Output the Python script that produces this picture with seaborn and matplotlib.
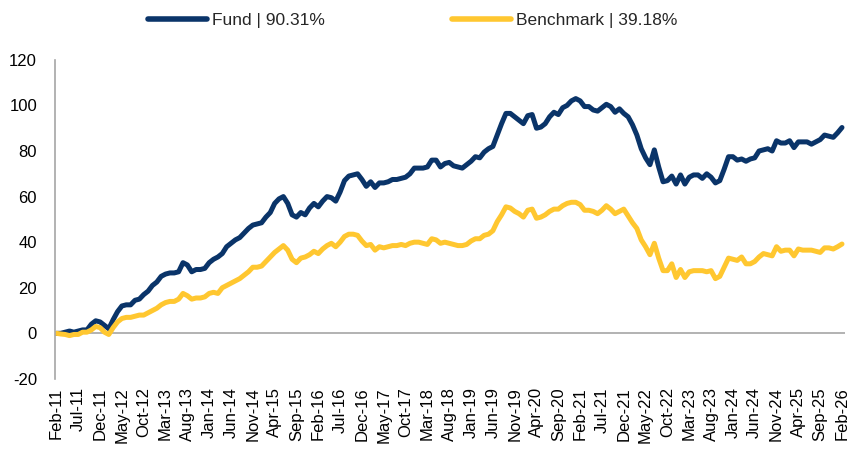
import numpy as np
import pandas as pd
import matplotlib
matplotlib.use("Agg")
import matplotlib.pyplot as plt
import seaborn as sns
from matplotlib.lines import Line2D

# ---- data (monthly cumulative return, %) ----
months = pd.date_range("2011-02-01", periods=181, freq="MS").strftime("%b-%y").tolist()

fund = [
    0, 0, 0.5, 1, 0.5, 1, 1.5, 1.5, 4, 5.5, 5, 3.5,
    2, 6, 9.5, 12, 12.5, 12.5, 14.5, 15, 17, 18.5, 21, 22.5,
    25, 26, 26.5, 26.5, 27, 31, 30, 27, 28, 28, 28.5, 31,
    32.5, 33.5, 35, 38, 39.5, 41, 42, 44, 46, 47.5, 48, 48.5,
    51, 53, 57, 59, 60, 57, 52, 51, 53, 52, 55, 57,
    55.5, 58, 60, 59.5, 58, 62, 67, 69, 69.5, 70, 67.5, 64.5,
    66.5, 64, 66, 66, 66.5, 67.5, 67.5, 68, 68.5, 70, 72.5, 72.5,
    72.5, 73, 76, 76, 73, 74.5, 75, 73.5, 73, 72.5, 74, 75.5,
    77.5, 77, 79.5, 81, 82, 87, 92, 96.5, 96.5, 95, 93.5, 92,
    95.5, 96, 90, 90.5, 92, 95, 97, 96, 99, 100, 102, 103,
    102, 99.5, 99.5, 98, 97.5, 99, 100.5, 99.5, 97, 98.5, 96.5, 95,
    91.5, 87, 81, 77, 74, 80.5, 73, 66.5, 67, 69, 65.5, 69.5,
    65.5, 68.5, 69.5, 69.5, 68, 70, 68.5, 66, 67, 72, 77.5, 77.5,
    76, 76.5, 75.5, 76.5, 77, 80, 80.5, 81, 80, 84.5, 83.5, 83.5,
    84.5, 81.5, 84, 84, 84, 83, 84, 85, 87, 86.5, 86, 88,
    90.31,
]

benchmark = [
    0, -0.3, -0.5, -1, -0.5, -0.5, 0.5, 0.5, 1.5, 3, 2.5, 0.5,
    -0.5, 2.5, 5, 6.5, 7, 7, 7.5, 8, 8, 9, 10, 11,
    12.5, 13.5, 14, 14, 15, 17.5, 16.5, 15, 15.5, 15.5, 16, 17.5,
    18, 17.5, 20, 21, 22, 23, 24, 25.5, 27, 29, 29, 29.5,
    31.5, 33.5, 35.5, 37, 38.5, 36.5, 32.5, 31, 33, 33.5, 34.5, 36,
    35, 37, 38.5, 39.5, 38, 40, 42.5, 43.5, 43.5, 43, 40.5, 38.5,
    39, 36.5, 38, 37.5, 38, 38.5, 38.5, 39, 38.5, 39.5, 40, 40,
    39.5, 39, 41.5, 41, 39.5, 40, 39.5, 39, 38.5, 38.5, 39, 40.5,
    41.5, 41.5, 43, 43.5, 45, 49, 52, 55.5, 55, 53.5, 52.5, 51,
    54, 54.5, 50.5, 51, 52, 53.5, 54.5, 54.5, 56, 57, 57.5, 57.5,
    56.5, 54, 54, 53.5, 52.5, 54, 56, 54.5, 52.5, 53.5, 54.5, 51.5,
    48.5, 46, 41, 38, 34.5, 39.5, 33, 27.5, 27.5, 30.5, 24.5, 28,
    24.5, 27, 27.5, 27.5, 27.5, 27, 27.5, 24, 25, 29, 33, 32.5,
    32, 33.5, 30.5, 30.5, 31.5, 33.5, 35, 34.5, 34, 38, 36, 36.5,
    36.5, 34, 37, 36.5, 36.5, 36.5, 36, 35.5, 37.5, 37.5, 37, 38,
    39.18,
]

tick_labels = [
    "Feb-11", "Jul-11", "Dec-11", "May-12", "Oct-12", "Mar-13", "Aug-13", "Jan-14",
    "Jun-14", "Nov-14", "Apr-15", "Sep-15", "Feb-16", "Jul-16", "Dec-16", "May-17",
    "Oct-17", "Mar-18", "Aug-18", "Jan-19", "Jun-19", "Nov-19", "Apr-20", "Sep-20",
    "Feb-21", "Jul-21", "Dec-21", "May-22", "Oct-22", "Mar-23", "Aug-23", "Jan-24",
    "Jun-24", "Nov-24", "Apr-25", "Sep-25", "Feb-26",
]

series_names = ["Fund | 90.31%", "Benchmark | 39.18%"]
colors = ["#0A3469", "#FFC730"]

# ---- build frame ----
df = pd.DataFrame({
    "idx": list(range(len(months))) * 2,
    "month": months * 2,
    "value": fund + benchmark,
    "series": [series_names[0]] * len(fund) + [series_names[1]] * len(benchmark),
})

sns.set_theme(style="white")
plt.rcParams["font.family"] = ["Liberation Sans", "DejaVu Sans"]

fig = plt.figure(figsize=(8.48, 4.5), dpi=100)
ax = fig.add_axes([0.065, 0.158, 0.931, 0.709])

sns.lineplot(data=df, x="idx", y="value", hue="series", hue_order=series_names,
             palette=colors, linewidth=3.6, ax=ax, legend=False, sort=False)

ax.set_xlim(-0.3, 180.6)
ax.set_ylim(-20, 120)
ax.set_yticks(np.arange(-20, 121, 20))
ax.set_yticklabels([str(v) for v in range(-20, 121, 20)], fontsize=12, color="#000000")

tick_pos = [months.index(t) for t in tick_labels]
ax.set_xticks(tick_pos)
ax.set_xticklabels(tick_labels, rotation=90, fontsize=12, color="#000000")
ax.tick_params(axis="both", length=0)
ax.tick_params(axis="y", pad=13)
ax.tick_params(axis="x", pad=6)
ax.set_xlabel("")
ax.set_ylabel("")

for s in ["top", "right", "bottom"]:
    ax.spines[s].set_visible(False)
ax.spines["left"].set_color("#A6A6A6")
ax.spines["left"].set_linewidth(1.2)
ax.axhline(0, color="#A6A6A6", linewidth=1.2, zorder=0)
ax.grid(False)

handles = [Line2D([0], [0], color=c, linewidth=4, solid_capstyle="round") for c in colors]
fig.legend(handles, series_names, loc="center", bbox_to_anchor=(0.487, 0.955),
           ncol=2, frameon=False, fontsize=12.5, handlelength=3.4,
           handletextpad=0.3, columnspacing=7.3)

fig.savefig("out.png", dpi=100)
